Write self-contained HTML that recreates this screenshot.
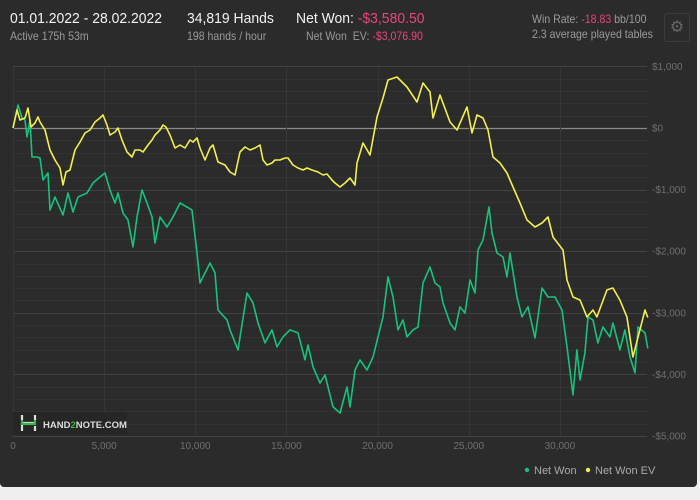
<!DOCTYPE html>
<html><head><meta charset="utf-8"><style>
body{margin:0;width:700px;height:500px;background:#f0f0f0;overflow:hidden;font-family:"Liberation Sans",sans-serif}
#panel{position:absolute;left:0;top:0;width:697px;height:487px;background:#2b2b2b;border-radius:0 0 4px 4px}
.t{position:absolute;white-space:nowrap;transform-origin:left top}
.big{font-size:15px;color:#f2f2f2;transform:scaleX(0.93)}
.sm{font-size:12px;color:#9a9a9a;transform:scaleX(0.88)}
.neg{color:#e8457a}
</style></head><body>
<div id="panel">
<div class="t big" style="left:10px;top:10px">01.01.2022 - 28.02.2022</div>
<div class="t sm" style="left:10px;top:29px">Active 175h 53m</div>
<div class="t big" style="left:187px;top:10px">34,819 Hands</div>
<div class="t sm" style="left:187px;top:29px">198 hands / hour</div>
<div class="t big" style="left:296px;top:10px">Net Won: <span class="neg">-$3,580.50</span></div>
<div class="t sm" style="left:306px;top:29px">Net Won&nbsp; EV: <span class="neg">-$3,076.90</span></div>
<div class="t sm" style="left:532px;top:12px">Win Rate: <span class="neg">-18.83</span> bb/100</div>
<div class="t sm" style="left:532px;top:27px">2.3 average played tables</div>
<div class="t" style="left:664px;top:13px;width:24px;height:27px;border:1px solid #3c3c3c;border-radius:3px;color:#666;font-size:16px;text-align:center;line-height:27px">⚙</div>
<svg id="chart" width="697" height="487" style="position:absolute;left:0;top:0"></svg>
</div>
<script>
const xTicks=[0,5000,10000,15000,20000,25000,30000];
const xTickLabels=["0","5,000","10,000","15,000","20,000","25,000","30,000"];
const yTicks=[1000,0,-1000,-2000,-3000,-4000,-5000];
const yTickLabels=["$1,000","$0","-$1,000","-$2,000","-$3,000","-$4,000","-$5,000"];
const evHands=[0,219,384,658,823,987,1207,1371,1481,1755,2029,2304,2578,2743,2907,3126,3401,3675,3949,4223,4498,4772,4937,5156,5320,5595,5759,5979,6253,6527,6692,6966,7131,7405,7624,7789,8063,8228,8392,8611,8886,9160,9434,9708,9873,10092,10257,10531,10805,10970,11244,11628,11903,12177,12451,12725,13000,13274,13548,13713,13932,14206,14371,14645,14920,15084,15358,15632,15907,16126,16400,16729,17004,17223,17497,17662,17936,18210,18485,18759,18869,19198,19582,19966,20295,20569,21062,21611,22160,22489,22873,23037,23421,23970,24353,24902,25176,25451,25780,26054,26328,26712,27096,27425,27809,28193,28632,29016,29345,29619,30168,30387,30716,31100,31484,31813,32032,32581,32910,33294,33678,34007,34391,34666,34819];
const evValues=[0,292,130,162,325,16,81,179,97,-32,-357,-519,-649,-925,-714,-682,-357,-227,-81,-32,97,162,211,49,-114,-65,0,-195,-390,-471,-357,-357,-390,-276,-195,-114,-32,49,16,-114,-325,-276,-325,-195,-227,-162,-325,-519,-325,-276,-552,-600,-714,-763,-390,-308,-357,-325,-276,-519,-600,-568,-519,-519,-487,-487,-600,-649,-682,-649,-682,-714,-763,-747,-844,-893,-958,-893,-812,-925,-568,-243,-438,179,487,779,828,665,422,730,584,162,536,97,-32,341,-81,211,162,-32,-471,-568,-730,-958,-1217,-1493,-1607,-1542,-1444,-1769,-1980,-2467,-2743,-2792,-3067,-2954,-3067,-2629,-2597,-2792,-3067,-3717,-3278,-2954,-3077];
const wonHands=[0,274,494,658,768,932,1042,1316,1481,1646,1920,2029,2304,2743,3017,3291,3565,4059,4388,4772,5046,5320,5595,5759,6034,6308,6582,6801,7076,7350,7624,7789,8063,8447,8776,9160,9544,9818,10092,10257,10805,11080,11244,11738,11903,12341,12835,13164,13438,13822,14206,14480,14810,15193,15632,16016,16181,16455,16839,17113,17552,17936,18320,18485,18759,19033,19417,19746,20020,20295,20569,20843,21117,21392,21611,21940,22214,22489,22873,23147,23421,23586,23970,24244,24518,24793,25067,25341,25506,25780,26109,26273,26548,26877,27096,27261,27645,27919,28248,28632,29016,29345,29729,30113,30387,30716,30935,31100,31374,31539,31813,32087,32361,32745,32910,33294,33568,33843,34117,34282,34666,34819];
const wonValues=[0,373,162,130,-146,130,-471,-471,-487,-844,-730,-1331,-1120,-1412,-1055,-1363,-1120,-1055,-893,-795,-730,-1006,-1217,-1055,-1380,-1493,-1931,-1444,-1006,-1217,-1444,-1866,-1444,-1607,-1444,-1217,-1282,-1331,-2029,-2516,-2191,-2353,-2954,-3116,-3278,-3603,-2678,-2840,-3165,-3489,-3278,-3554,-3392,-3278,-3327,-3765,-3522,-3879,-4139,-4009,-4528,-4626,-4204,-4528,-3928,-3765,-3928,-3717,-3392,-3067,-2418,-2743,-3278,-3116,-3392,-3278,-3230,-2516,-2256,-2516,-2581,-2840,-3165,-3278,-2905,-3003,-2467,-2678,-1980,-1818,-1282,-1704,-2029,-2094,-2418,-2029,-2743,-3067,-2905,-3408,-2597,-2743,-2743,-2954,-3554,-4333,-3603,-4090,-3652,-3067,-3116,-3489,-3230,-3392,-3165,-3603,-3278,-3717,-3976,-3230,-3327,-3580];

const NS="http://www.w3.org/2000/svg";
const svg=document.getElementById('chart');
const X0=13,X1=647,Y0=67,Y1=436;
const xs=h=>X0+h/1000*18.23;
const ys=v=>128-v/1000*61.6;
function mk(tag,attrs){const e=document.createElementNS(NS,tag);for(const k in attrs)e.setAttribute(k,attrs[k]);svg.appendChild(e);return e;}
for(let v=1000;v>=-5000;v-=200){
  const yy=Math.round(ys(v))+0.5;
  const l=mk('line',{x1:X0,x2:X1,y1:yy,y2:yy,stroke:v%1000===0?(v===0?'#8a8a8a':'#424242'):'#333333','stroke-width':v===0?1.3:1});
  
  
}
xTicks.forEach((h,i)=>{
  const xx=Math.round(xs(h))+0.5;
  const l=mk('line',{x1:xx,x2:xx,y1:Y0,y2:Y1,stroke:'#363636'});
  
  
  const t=mk('text',{x:xs(h),y:449,fill:'#6f6f6f','font-size':'10','text-anchor':'middle','font-family':'Liberation Sans, sans-serif'});
  t.textContent=xTickLabels[i];
  
  
});
yTicks.forEach((v,i)=>{
  const t=mk('text',{x:652,y:ys(v)+3.5,fill:'#6f6f6f','font-size':'10','font-family':'Liberation Sans, sans-serif'});
  t.textContent=yTickLabels[i];
  
  
});
const lb=mk('rect',{x:13,y:412,width:114,height:23,fill:'#262626'});


const lg=mk('path',{d:'M22 415v5M35 415v5M22 423h13M22 423v8M35 426v5',stroke:'#ddd','stroke-width':'2.2',fill:'none'});


mk('path',{d:'M22 420v4h13v-4',stroke:'#3bb54a','stroke-width':'2.2',fill:'none'});
const lt=mk('text',{x:43,y:428,fill:'#ddd','font-size':'9.5','font-weight':'bold','font-family':'Liberation Sans, sans-serif'});
lt.innerHTML='HAND<tspan fill="#3bb54a">2</tspan>NOTE.COM';


function line(hs,vs,color,name){
  const p=mk('polyline',{points:hs.map((h,i)=>xs(h).toFixed(1)+','+ys(vs[i]).toFixed(1)).join(' '),fill:'none',stroke:color,'stroke-width':'1.6','stroke-linejoin':'round'});
  
  
}
line(wonHands,wonValues,'#17c27c','net-won-line');
line(evHands,evValues,'#f2ef4f','net-won-ev-line');
[['#17c27c','Net Won',527,'legend-net-won'],['#f2ef4f','Net Won  EV',588,'legend-net-won-ev']].forEach(d=>{
  const c=mk('circle',{cx:d[2],cy:470,r:2.2,fill:d[0]});
  
  
  const t=mk('text',{x:d[2]+7,y:474,fill:'#aaa','font-size':'11','font-family':'Liberation Sans, sans-serif','xml:space':'preserve'});
  t.textContent=d[1];
  
  
});
</script>
</body></html>
